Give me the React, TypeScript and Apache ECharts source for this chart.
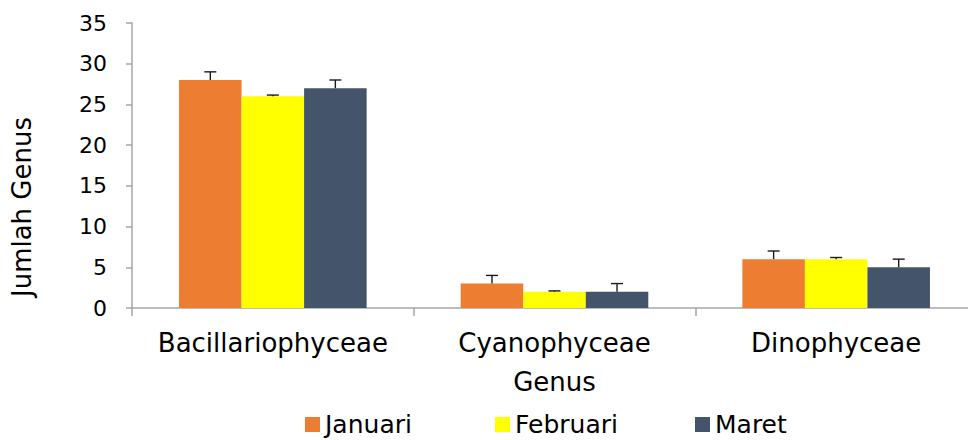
import React, { useEffect, useRef } from "react";
import * as echarts from "echarts";

const categories = ["Bacillariophyceae", "Cyanophyceae", "Dinophyceae"];
const seriesNames = ["Januari", "Februari", "Maret"];
const januari = [28, 3, 6];
const februari = [26, 2, 6];
const maret = [27, 2, 5];
const errJanuari = [1, 1, 1];
const errFebruari = [0.15, 0.1, 0.2];
const errMaret = [1, 1, 1];
const colors = ["#ED7D31", "#FFFF00", "#44546A"];
const yTicks = { min: 0, max: 35, interval: 5 };

const FONT = "'DejaVu Sans', sans-serif";
const CAT_GAP = 0.334;

export default function App() {
  const ref = useRef<HTMLDivElement>(null);
  useEffect(() => {
    if (!ref.current) return;
    const chart = echarts.init(ref.current, undefined, { renderer: "svg" });
    const values = [januari, februari, maret];
    const errs = [errJanuari, errFebruari, errMaret];
    const errData: number[][] = [];
    values.forEach((vals, s) => {
      vals.forEach((v, c) => {
        errData.push([c, v, errs[s][c], s]);
      });
    });
    const legendPos = [305, 495, 695];
    chart.setOption({
      animation: false,
      grid: {
        left: 132,
        top: 23,
        width: 845,
        bottom: 132,
        containLabel: false,
        outerBoundsMode: "none",
      },
      legend: seriesNames.map((n, i) => ({
        data: [n],
        left: legendPos[i],
        top: 412,
        padding: 0,
        itemWidth: 15,
        itemHeight: 15,
        icon: "rect",
        textStyle: { fontFamily: FONT, fontSize: 25, color: "#000" },
      })),
      xAxis: {
        type: "category",
        data: categories,
        name: "Genus",
        nameLocation: "middle",
        nameGap: 61,
        nameTextStyle: { fontFamily: FONT, fontSize: 26, color: "#000" },
        axisLine: { show: true, lineStyle: { color: "#A6A6A6", width: 1.5 } },
        axisTick: { show: true, length: 8, lineStyle: { color: "#A6A6A6", width: 1.5 } },
        axisLabel: { fontFamily: FONT, fontSize: 26, color: "#000", margin: 22, interval: 0 },
      },
      yAxis: {
        type: "value",
        min: yTicks.min,
        max: yTicks.max,
        interval: yTicks.interval,
        splitLine: { show: false },
        axisLine: { show: true, lineStyle: { color: "#A6A6A6", width: 1.5 } },
        axisTick: { show: true, length: 6, lineStyle: { color: "#A6A6A6", width: 1.5 } },
        axisLabel: { fontFamily: FONT, fontSize: 22, color: "#000", margin: 25 },
      },
      graphic: [
        {
          type: "text",
          x: 22,
          y: 207,
          rotation: Math.PI / 2,
          style: {
            text: "Jumlah Genus",
            fontFamily: FONT,
            fontSize: 26,
            fill: "#000",
            align: "center",
            verticalAlign: "middle",
          },
        },
      ],
      series: [
        ...seriesNames.map((n, i) => ({
          name: n,
          type: "bar",
          data: values[i],
          barGap: "0%",
          barCategoryGap: CAT_GAP * 100 + "%",
          itemStyle: { color: colors[i] },
        })),
        {
          type: "custom",
          name: "err",
          data: errData,
          z: 10,
          renderItem: (params: any, api: any) => {
            const c = api.value(0);
            const v = api.value(1);
            const e = api.value(2);
            const s = api.value(3);
            const base = api.coord([c, v]);
            const top = api.coord([c, v + e]);
            const band = api.size([1, 0])[0];
            const bw = (band * (1 - CAT_GAP)) / 3;
            const x = base[0] + (s - 1) * bw;
            const st = { stroke: "#1a1a1a", lineWidth: 1.4 };
            return {
              type: "group",
              children: [
                { type: "line", shape: { x1: x, y1: base[1], x2: x, y2: top[1] }, style: st },
                { type: "line", shape: { x1: x - 6, y1: top[1], x2: x + 6, y2: top[1] }, style: st },
              ],
            };
          },
        },
      ],
    });
    return () => chart.dispose();
  }, []);
  return (
    <div
      ref={ref}
      style={{ position: "absolute", left: 0, top: 0, width: 968, height: 440 }}
    />
  );
}
